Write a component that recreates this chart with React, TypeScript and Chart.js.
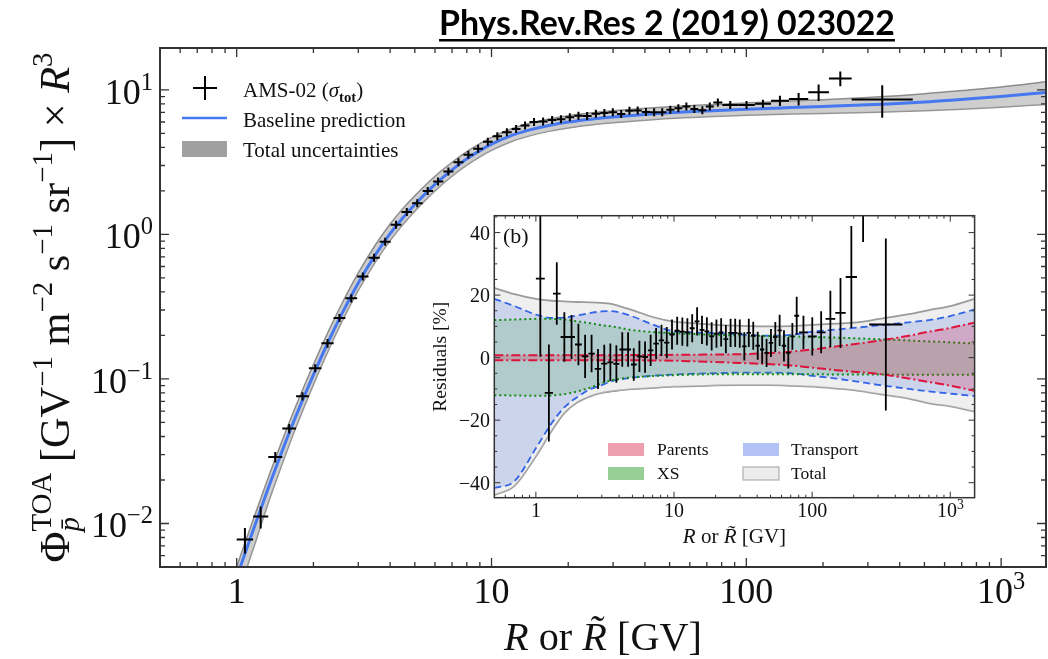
import React, { useEffect, useRef } from "react";
import { Chart, registerables } from "chart.js";
Chart.register(...registerables);

// ---------------- DATA ----------------
const binCenters = [1.077, 1.242, 1.417, 1.607, 1.812, 2.032, 2.272, 2.531, 2.816, 3.126, 3.461, 3.826, 4.221, 4.65, 5.112, 5.618, 6.17, 6.773, 7.418, 8.112, 8.862, 9.671, 10.54, 11.49, 12.49, 13.54, 14.69, 15.94, 17.29, 18.73, 20.29, 21.94, 23.73, 25.68, 27.73, 29.93, 32.28, 34.78, 37.47, 40.37, 43.47, 46.77, 50.32, 54.12, 58.17, 62.51, 67.21, 71.9, 77.3, 86.5, 100.2, 116.2, 135.5, 160.4, 192.2, 233.8, 341.5];
const binEdges = [1.0, 1.16, 1.33, 1.51, 1.71, 1.92, 2.15, 2.4, 2.67, 2.97, 3.29, 3.64, 4.02, 4.43, 4.88, 5.37, 5.9, 6.47, 7.09, 7.76, 8.48, 9.26, 10.1, 11.0, 12.0, 13.0, 14.1, 15.3, 16.6, 18.0, 19.5, 21.1, 22.8, 24.7, 26.7, 28.8, 31.1, 33.5, 36.1, 38.9, 41.9, 45.1, 48.5, 52.2, 56.1, 60.3, 64.8, 69.7, 74.2, 80.5, 93.0, 108, 125, 147, 175, 211, 259, 450];
const flux = [0.00774, 0.01118, 0.0288, 0.0454, 0.076, 0.1188, 0.1767, 0.2644, 0.3615, 0.511, 0.6895, 0.89, 1.169, 1.431, 1.641, 1.996, 2.325, 2.729, 3.159, 3.566, 3.914, 4.382, 4.778, 5.09, 5.362, 5.667, 6.004, 6.055, 6.2, 6.269, 6.462, 6.616, 6.598, 6.83, 6.927, 7.001, 6.817, 7.175, 7.19, 7.038, 7.018, 7.004, 7.277, 7.462, 7.663, 7.37, 7.247, 7.668, 8.187, 7.87, 7.86, 8.032, 8.43, 8.664, 9.636, 12.01, 8.6];
const fluxErr = [0.00155, 0.00195, 0.0024, 0.0034, 0.005, 0.0075, 0.0121, 0.0157, 0.024, 0.031, 0.042, 0.054, 0.063, 0.077, 0.087, 0.099, 0.116, 0.133, 0.151, 0.169, 0.187, 0.196, 0.198, 0.212, 0.223, 0.233, 0.242, 0.25, 0.257, 0.264, 0.27, 0.275, 0.28, 0.285, 0.289, 0.293, 0.296, 0.299, 0.302, 0.305, 0.308, 0.311, 0.313, 0.336, 0.353, 0.355, 0.357, 0.309, 0.44, 0.386, 0.449, 0.498, 0.675, 0.849, 1.249, 1.395, 2.186];
const residual = [25.3, -11.3, 20.5, 6.6, 6.6, 4.2, 0.4, 1.3, -3.6, -1.9, -1.5, -2.0, 2.6, 2.6, -2.2, 0.4, 0.2, 2.3, 4.5, 5.5, 4.8, 7.4, 8.6, 8.3, 8.1, 9.4, 11.6, 8.9, 8.4, 6.8, 7.7, 8.1, 5.9, 7.9, 7.9, 7.7, 3.6, 7.9, 7.0, 3.8, 2.6, 1.5, 4.7, 6.6, 8.7, 3.8, 1.5, 6.8, 13.4, 8.1, 6.8, 8.1, 12.4, 14.3, 25.8, 55, 10.6];
const residualErr = [25, 15.5, 10, 7.9, 7, 6.6, 6.9, 6, 6.4, 6, 6, 6, 5.5, 5.5, 5.2, 5, 5, 5, 5, 5, 5, 4.8, 4.5, 4.5, 4.5, 4.5, 4.5, 4.5, 4.5, 4.5, 4.5, 4.5, 4.5, 4.5, 4.5, 4.5, 4.5, 4.5, 4.5, 4.5, 4.5, 4.5, 4.5, 4.8, 5, 5, 5, 4.3, 6.1, 5.3, 6.1, 6.7, 9, 11.2, 16.3, 18, 27.5];

const curveR = [1.0, 1.1, 1.2, 1.35, 1.5, 1.7, 2.0, 2.3, 2.6, 3.0, 3.5, 4.0, 4.5, 5.0, 6.0, 7.0, 8.0, 9.0, 10, 12, 14, 17, 20, 25, 30, 40, 50, 70, 100, 150, 200, 300, 500, 700, 1000, 1500];
const curveFlux = [0.00423, 0.00687, 0.0106, 0.0189, 0.031, 0.0543, 0.1069, 0.1846, 0.2876, 0.462, 0.722, 1.0125, 1.311, 1.613, 2.223, 2.8, 3.334, 3.8, 4.21, 4.845, 5.27, 5.7, 5.99, 6.3, 6.5, 6.77, 6.95, 7.16, 7.36, 7.55, 7.68, 7.88, 8.25, 8.6, 9.0, 9.6];
const bandUpperPct = [18.8, 18.5, 18.3, 18.1, 18, 17.9, 17.8, 17.7, 17.6, 17.4, 17, 16.5, 16, 15, 13.8, 12.8, 12.2, 11.8, 11.5, 11.2, 11, 10.7, 10.5, 10.3, 10.2, 10.1, 10, 10.1, 10.5, 10.9, 11.2, 12.3, 13.9, 15.2, 16.5, 18.8];
const bandLowerPct = [-31.6, -27, -25, -21, -19, -16.8, -14.5, -13.2, -12, -11.3, -10.8, -10.5, -10.3, -10.1, -9.9, -9.7, -9.6, -9.4, -9.3, -9.2, -9.1, -9, -8.9, -8.8, -8.8, -8.8, -8.8, -9, -9.3, -9.9, -10.4, -11.6, -13.1, -14.6, -15.6, -17.3];

const insetR = [0.5, 0.7, 1, 1.3, 1.6, 2, 2.5, 3, 3.5, 4, 5, 7, 10, 15, 20, 30, 50, 70, 100, 150, 200, 300, 500, 700, 1000, 1500];
const totalHi = [22.3, 20.3, 18.8, 18.2, 18, 17.8, 17.7, 17.5, 17.2, 16.5, 15.2, 13, 11.5, 10.9, 10.5, 10.2, 10, 10.1, 10.5, 10.9, 11.2, 12.3, 13.9, 15.2, 16.5, 18.8];
const totalLo = [-44, -41, -31.6, -23.5, -17.8, -14.3, -12.3, -11.3, -10.8, -10.5, -10.1, -9.7, -9.3, -9.1, -8.9, -8.8, -8.8, -9, -9.3, -9.9, -10.4, -11.6, -13.1, -14.6, -15.6, -17.3];
const transportHi = [18.8, 16.5, 13.8, 12.7, 12.8, 13.5, 14.3, 14.8, 14.9, 14.5, 13.2, 10.6, 8.4, 8.0, 7.8, 7.4, 7.0, 7.3, 8.3, 9.0, 9.5, 10.3, 11.3, 12.0, 13.3, 15.4];
const transportLo = [-41.7, -39.5, -29, -21, -16, -12.6, -10, -8.8, -7.6, -7.0, -6.4, -5.8, -5.4, -5.1, -5.0, -4.8, -4.8, -5.0, -5.8, -6.7, -7.5, -8.7, -10.0, -10.8, -11.5, -12.3];
const xsHi = [12, 12.2, 12.4, 12.4, 12.2, 11.6, 11, 10.4, 10, 9.6, 8.8, 8.2, 7.8, 7.5, 7.3, 7.1, 6.9, 6.8, 6.6, 6.4, 6.2, 5.9, 5.5, 5.2, 4.9, 4.5];
const xsLo = [-12, -12.1, -12.2, -12.1, -11.7, -10.8, -9.5, -8.2, -7.3, -6.8, -6.3, -5.9, -5.6, -5.4, -5.3, -5.3, -5.3, -5.3, -5.3, -5.4, -5.4, -5.4, -5.5, -5.5, -5.5, -5.5];
const parentsHi = [0.8, 0.8, 0.8, 0.8, 0.8, 0.8, 0.8, 0.8, 0.8, 0.8, 0.85, 0.85, 0.9, 0.95, 1.0, 1.1, 1.5, 1.9, 2.6, 3.6, 4.3, 5.4, 7.0, 8.3, 9.5, 11.2];
const parentsLo = [-0.8, -0.8, -0.8, -0.8, -0.8, -0.8, -0.8, -0.8, -0.8, -0.8, -0.85, -0.9, -1.0, -1.2, -1.4, -1.7, -2.1, -2.5, -3.2, -4.0, -4.5, -5.2, -6.7, -7.8, -9.0, -10.6];

const mainXTicks = [1, 10, 100, 1000];
const mainYTicks = [0.01, 0.1, 1, 10];
const insetXTicks = [1, 10, 100, 1000];
const insetYTicks = [-40, -20, 0, 20, 40];
const TITLE = "Phys.Rev.Res 2 (2019) 023022";
const mainLegend = ["AMS-02 (", "\u03c3", "tot", ")", "Baseline prediction", "Total uncertainties"];
const insetLegend = ["Parents", "Transport", "XS", "Total"];

// ---------------- TEXT HELPERS ----------------
const SERIF = '"Liberation Serif", "DejaVu Serif", serif';
type Seg = { t: string; s?: number; dy?: number; it?: boolean; b?: boolean; stack?: boolean };

function segFont(size: number, g: Seg) {
  return `${g.it ? "italic " : ""}${g.b ? "bold " : ""}${(size * (g.s ?? 1)).toFixed(2)}px ${SERIF}`;
}
function richWidth(ctx: CanvasRenderingContext2D, segs: Seg[], size: number) {
  let w = 0, pend = 0;
  for (const g of segs) {
    ctx.font = segFont(size, g);
    const m = ctx.measureText(g.t).width;
    if (g.stack) { pend = Math.max(pend, m); continue; }
    w += Math.max(m, pend); pend = 0;
  }
  return w + pend;
}
function drawRich(ctx: CanvasRenderingContext2D, segs: Seg[], x: number, y: number, size: number, align: "left" | "center" | "right") {
  const w = richWidth(ctx, segs, size);
  let cx = align === "left" ? x : align === "center" ? x - w / 2 : x - w;
  ctx.textAlign = "left";
  ctx.textBaseline = "alphabetic";
  let pend = 0;
  for (const g of segs) {
    ctx.font = segFont(size, g);
    const m = ctx.measureText(g.t).width;
    ctx.fillText(g.t, cx, y + (g.dy ?? 0) * size);
    if (g.stack) { pend = Math.max(pend, m); continue; }
    cx += Math.max(m, pend); pend = 0;
  }
}
function pow10Segs(k: number): Seg[] {
  return [{ t: "10" }, { t: k < 0 ? "\u2212" + -k : String(k), s: 0.68, dy: -0.4 }];
}
function tickLabelSegs(v: number, forceExp: boolean): Seg[] {
  const k = Math.round(Math.log10(v));
  if (!forceExp && k >= 0 && k <= 2) return [{ t: String(Math.round(v)) }];
  return pow10Segs(k);
}

function logTicks(min: number, max: number) {
  const major: number[] = [], minor: number[] = [];
  for (let k = Math.floor(Math.log10(min)); k <= Math.ceil(Math.log10(max)); k++) {
    const b = Math.pow(10, k);
    if (b >= min * 0.9999 && b <= max * 1.0001) major.push(b);
    for (let m = 2; m <= 9; m++) {
      const v = m * b;
      if (v > min * 1.0001 && v < max * 0.9999) minor.push(v);
    }
  }
  return { major, minor };
}

function drawFrameAndTicks(ctx: CanvasRenderingContext2D, chart: any, xT: { major: number[]; minor: number[] }, yT: { major: number[]; minor: number[] }, majLen: number, minLen: number, frameW: number, tickW: number, color: string) {
  const a = chart.chartArea;
  const xs = chart.scales.x, ys = chart.scales.y;
  ctx.save();
  ctx.strokeStyle = color;
  ctx.lineWidth = tickW;
  const tick = (len: number) => (v: number) => {
    const px = xs.getPixelForValue(v);
    ctx.beginPath();
    ctx.moveTo(px, a.bottom); ctx.lineTo(px, a.bottom - len);
    ctx.moveTo(px, a.top); ctx.lineTo(px, a.top + len);
    ctx.stroke();
  };
  const ytick = (len: number) => (v: number) => {
    const py = ys.getPixelForValue(v);
    ctx.beginPath();
    ctx.moveTo(a.left, py); ctx.lineTo(a.left + len, py);
    ctx.moveTo(a.right, py); ctx.lineTo(a.right - len, py);
    ctx.stroke();
  };
  xT.major.forEach(tick(majLen));
  xT.minor.forEach(tick(minLen));
  yT.major.forEach(ytick(majLen));
  yT.minor.forEach(ytick(minLen));
  ctx.lineWidth = frameW;
  ctx.strokeRect(a.left, a.top, a.right - a.left, a.bottom - a.top);
  ctx.restore();
}

// ---------------- MAIN CHART ----------------
const MAIN_X = { min: 0.5, max: 1500 };
const MAIN_Y = { min: 0.005, max: 19.5 };

const mainPlugin = {
  id: "mainDecor",
  afterDatasetsDraw(chart: any) {
    const { ctx, chartArea: a } = chart;
    const xs = chart.scales.x, ys = chart.scales.y;
    ctx.save();
    ctx.beginPath();
    ctx.rect(a.left, a.top, a.right - a.left, a.bottom - a.top);
    ctx.clip();
    ctx.strokeStyle = "#000";
    ctx.lineWidth = 2;
    binCenters.forEach((r, i) => {
      const x = xs.getPixelForValue(r);
      const y = ys.getPixelForValue(flux[i]);
      const x0 = xs.getPixelForValue(binEdges[i]);
      const x1 = xs.getPixelForValue(binEdges[i + 1]);
      const yTop = ys.getPixelForValue(flux[i] + fluxErr[i]);
      const yBot = ys.getPixelForValue(flux[i] - fluxErr[i]);
      ctx.beginPath();
      ctx.moveTo(x0, y); ctx.lineTo(x1, y);
      ctx.moveTo(x, yTop); ctx.lineTo(x, yBot);
      ctx.moveTo(x - 4, y); ctx.lineTo(x + 4, y);
      ctx.moveTo(x, y - 4); ctx.lineTo(x, y + 4);
      ctx.stroke();
    });
    ctx.restore();
  },
  afterDraw(chart: any) {
    const { ctx, chartArea: a } = chart;
    const xs = chart.scales.x, ys = chart.scales.y;
    drawFrameAndTicks(ctx, chart, logTicks(MAIN_X.min, MAIN_X.max), logTicks(MAIN_Y.min, MAIN_Y.max), 9, 5, 2, 1.3, "#333");
    ctx.save();
    ctx.fillStyle = "#111";
    // tick labels
    mainXTicks.forEach((v) => drawRich(ctx, tickLabelSegs(v, false), xs.getPixelForValue(v), 603, 36, "center"));
    mainYTicks.forEach((v) => drawRich(ctx, tickLabelSegs(v, true), 153, ys.getPixelForValue(v) + 14, 36, "right"));
    // x label
    const xl: Seg[] = [{ t: "R", it: true }, { t: " or " }, { t: "R\u0303", it: true }, { t: " [GV]" }];
    const xlw = richWidth(ctx, xl, 36);
    drawRich(ctx, xl, (a.left + a.right) / 2, 650, (36 * 198) / xlw, "center");
    // y label
    const yl: Seg[] = [
      { t: "\u03a6" },
      { t: "TOA", s: 0.68, dy: -0.42, stack: true },
      { t: "p\u0304", s: 0.68, dy: 0.24, it: true },
      { t: " [GV" }, { t: "\u22121", s: 0.68, dy: -0.4 },
      { t: " m" }, { t: "\u22122", s: 0.68, dy: -0.4 },
      { t: " s" }, { t: "\u22121", s: 0.68, dy: -0.4 },
      { t: " sr" }, { t: "\u22121", s: 0.68, dy: -0.4 },
      { t: "] \u00d7 " }, { t: "R", it: true }, { t: "3", s: 0.68, dy: -0.4 },
    ];
    const ylw = richWidth(ctx, yl, 40);
    ctx.save();
    ctx.translate(69, (a.top + a.bottom) / 2);
    ctx.rotate(-Math.PI / 2);
    drawRich(ctx, yl, 0, 0, (40 * 510) / ylw, "center");
    ctx.restore();
    // legend
    ctx.strokeStyle = "#000";
    ctx.lineWidth = 2;
    ctx.beginPath();
    ctx.moveTo(193, 88); ctx.lineTo(217, 88);
    ctx.moveTo(205, 76); ctx.lineTo(205, 100);
    ctx.stroke();
    drawRich(ctx, [{ t: mainLegend[0] }, { t: mainLegend[1], it: true }, { t: mainLegend[2], s: 0.7, dy: 0.22, b: true }, { t: mainLegend[3] }], 243, 97, 21, "left");
    ctx.strokeStyle = "rgb(70,120,240)";
    ctx.lineWidth = 2.5;
    ctx.beginPath(); ctx.moveTo(182, 118); ctx.lineTo(227, 118); ctx.stroke();
    drawRich(ctx, [{ t: mainLegend[4] }], 243, 127, 21, "left");
    ctx.fillStyle = "rgb(160,160,160)";
    ctx.fillRect(182, 141, 45, 16);
    ctx.fillStyle = "#111";
    drawRich(ctx, [{ t: mainLegend[5] }], 243, 157, 21, "left");
    // title
    ctx.font = `bold 32px Lato, "Open Sans", sans-serif`;
    const tw32 = ctx.measureText(TITLE).width;
    const tsz = (32 * 456) / tw32;
    ctx.font = `bold ${tsz.toFixed(2)}px Lato, "Open Sans", sans-serif`;
    const tw = ctx.measureText(TITLE).width;
    const tx = 667 - tw / 2;
    ctx.fillStyle = "#000";
    ctx.textAlign = "left";
    ctx.textBaseline = "alphabetic";
    ctx.fillText(TITLE, tx, 35);
    ctx.fillRect(tx, 39, tw, 2.5);
    ctx.restore();
  },
};

function mainConfig(): any {
  return {
    type: "line",
    data: {
      datasets: [
        { type: "scatter", label: "AMS-02", data: binCenters.map((x, i) => ({ x, y: flux[i] })), pointRadius: 0, showLine: false },
        { label: "Baseline prediction", data: curveR.map((x, i) => ({ x, y: curveFlux[i] })), borderColor: "rgb(70,120,240)", borderWidth: 3, pointRadius: 0, fill: false, cubicInterpolationMode: "monotone" },
        { label: "Total uncertainties", data: curveR.map((x, i) => ({ x, y: curveFlux[i] * (1 + bandUpperPct[i] / 100) })), borderColor: "rgba(125,125,125,0.85)", borderWidth: 1.5, pointRadius: 0, fill: "+1", backgroundColor: "rgba(165,165,165,0.55)", cubicInterpolationMode: "monotone" },
        { label: "band low", data: curveR.map((x, i) => ({ x, y: curveFlux[i] * (1 + bandLowerPct[i] / 100) })), borderColor: "rgba(125,125,125,0.85)", borderWidth: 1.5, pointRadius: 0, fill: false, cubicInterpolationMode: "monotone" },
      ],
    },
    options: {
      animation: false,
      responsive: false,
      devicePixelRatio: 1,
      layout: { padding: { left: 0, right: 2, top: 48, bottom: 0 } },
      plugins: { legend: { display: false }, tooltip: { enabled: false }, title: { display: false } },
      scales: {
        x: { type: "logarithmic", min: MAIN_X.min, max: MAIN_X.max, grid: { display: false }, border: { display: false }, ticks: { display: false }, afterFit: (s: any) => { s.height = 92; } },
        y: { type: "logarithmic", min: MAIN_Y.min, max: MAIN_Y.max, grid: { display: false }, border: { display: false }, ticks: { display: false }, afterFit: (s: any) => { s.width = 160; } },
      },
    },
    plugins: [mainPlugin],
  };
}

// ---------------- INSET CHART ----------------
const INSET_X = { min: 0.5, max: 1500 };
const INSET_Y = { min: -44.8, max: 45.4 };

const insetPlugin = {
  id: "insetDecor",
  afterDatasetsDraw(chart: any) {
    const { ctx, chartArea: a } = chart;
    const xs = chart.scales.x, ys = chart.scales.y;
    ctx.save();
    ctx.beginPath();
    ctx.rect(a.left, a.top, a.right - a.left, a.bottom - a.top);
    ctx.clip();
    ctx.strokeStyle = "#000";
    ctx.lineWidth = 1.8;
    binCenters.forEach((r, i) => {
      const x = xs.getPixelForValue(r);
      const y = ys.getPixelForValue(residual[i]);
      const x0 = xs.getPixelForValue(binEdges[i]);
      const x1 = xs.getPixelForValue(binEdges[i + 1]);
      ctx.beginPath();
      ctx.moveTo(x0, y); ctx.lineTo(x1, y);
      ctx.moveTo(x, ys.getPixelForValue(residual[i] + residualErr[i]));
      ctx.lineTo(x, ys.getPixelForValue(residual[i] - residualErr[i]));
      ctx.stroke();
    });
    ctx.restore();
  },
  afterDraw(chart: any) {
    const { ctx, chartArea: a } = chart;
    const xs = chart.scales.x, ys = chart.scales.y;
    const yMinor: number[] = [];
    for (let v = -40; v <= 45; v += 5) if (v % 20 !== 0) yMinor.push(v);
    drawFrameAndTicks(ctx, chart, logTicks(INSET_X.min, INSET_X.max), { major: insetYTicks, minor: yMinor }, 6, 3, 1.5, 1, "#333");
    ctx.save();
    ctx.fillStyle = "#111";
    insetXTicks.forEach((v) => drawRich(ctx, tickLabelSegs(v, false), xs.getPixelForValue(v), 312, 20, "center"));
    insetYTicks.forEach((v) => drawRich(ctx, [{ t: v < 0 ? "\u2212" + -v : String(v) }], 70, ys.getPixelForValue(v) + 7, 20, "right"));
    drawRich(ctx, [{ t: "R", it: true }, { t: " or " }, { t: "R\u0303", it: true }, { t: " [GV]" }], (a.left + a.right) / 2, 338, 21, "center");
    ctx.save();
    ctx.translate(26, (a.top + a.bottom) / 2);
    ctx.rotate(-Math.PI / 2);
    drawRich(ctx, [{ t: "Residuals [%]" }], 0, 0, 19.5, "center");
    ctx.restore();
    drawRich(ctx, [{ t: "(b)" }], 83, 38, 22, "left");
    // legend
    const patch = (x: number, y: number, fill: string, stroke?: string) => {
      ctx.fillStyle = fill;
      ctx.fillRect(x, y, 36, 13);
      if (stroke) { ctx.strokeStyle = stroke; ctx.lineWidth = 1.2; ctx.strokeRect(x, y, 36, 13); }
    };
    patch(188, 238, "rgb(238,160,176)");
    patch(323, 238, "rgb(178,194,244)");
    patch(188, 262, "rgb(150,206,150)");
    patch(323, 262, "rgb(236,236,236)", "rgb(175,175,175)");
    ctx.fillStyle = "#111";
    drawRich(ctx, [{ t: insetLegend[0] }], 237, 250, 17.5, "left");
    drawRich(ctx, [{ t: insetLegend[1] }], 371, 250, 17.5, "left");
    drawRich(ctx, [{ t: insetLegend[2] }], 237, 274, 17.5, "left");
    drawRich(ctx, [{ t: insetLegend[3] }], 371, 274, 17.5, "left");
    ctx.restore();
  },
};

function bandDatasets(label: string, hi: number[], lo: number[], line: string, fill: string, dash: number[], width: number): any[] {
  return [
    { label, data: insetR.map((x, i) => ({ x, y: hi[i] })), borderColor: line, borderDash: dash, borderWidth: width, pointRadius: 0, fill: "+1", backgroundColor: fill, cubicInterpolationMode: "monotone" },
    { label: label + " low", data: insetR.map((x, i) => ({ x, y: lo[i] })), borderColor: line, borderDash: dash, borderWidth: width, pointRadius: 0, fill: false, cubicInterpolationMode: "monotone" },
  ];
}

function insetConfig(): any {
  return {
    type: "line",
    data: {
      datasets: [
        { type: "scatter", label: "residuals", data: binCenters.map((x, i) => ({ x, y: residual[i] })), pointRadius: 0, showLine: false },
        ...bandDatasets("Parents", parentsHi, parentsLo, "rgb(220,20,60)", "rgba(220,20,60,0.22)", [9, 3, 2, 3], 2),
        ...bandDatasets("XS", xsHi, xsLo, "rgb(20,140,20)", "rgba(40,150,40,0.17)", [2, 3], 2),
        ...bandDatasets("Transport", transportHi, transportLo, "rgb(50,100,230)", "rgba(65,105,225,0.2)", [7, 4], 1.8),
        ...bandDatasets("Total", totalHi, totalLo, "rgb(155,155,155)", "rgba(215,215,215,0.4)", [], 1.8),
      ],
    },
    options: {
      animation: false,
      responsive: false,
      devicePixelRatio: 1,
      layout: { padding: { left: 0, right: 15.4, top: 10.7, bottom: 0 } },
      plugins: { legend: { display: false }, tooltip: { enabled: false }, title: { display: false } },
      scales: {
        x: { type: "logarithmic", min: INSET_X.min, max: INSET_X.max, grid: { display: false }, border: { display: false }, ticks: { display: false }, afterFit: (s: any) => { s.height = 52.3; } },
        y: { type: "linear", min: INSET_Y.min, max: INSET_Y.max, grid: { display: false }, border: { display: false }, ticks: { display: false }, afterFit: (s: any) => { s.width = 74.3; } },
      },
    },
    plugins: [insetPlugin],
  };
}

export default function App() {
  const mainRef = useRef<HTMLCanvasElement>(null);
  const insetRef = useRef<HTMLCanvasElement>(null);
  useEffect(() => {
    const c1 = new Chart(mainRef.current as HTMLCanvasElement, mainConfig());
    const c2 = new Chart(insetRef.current as HTMLCanvasElement, insetConfig());
    return () => {
      c1.destroy();
      c2.destroy();
    };
  }, []);
  return (
    <div style={{ position: "fixed", left: 0, top: 0, width: 1048, height: 659, background: "#fff", overflow: "hidden" }}>
      <canvas ref={mainRef} width={1048} height={659} style={{ position: "absolute", left: 0, top: 0 }} />
      <canvas ref={insetRef} width={570} height={345} style={{ position: "absolute", left: 420, top: 205 }} />
    </div>
  );
}
